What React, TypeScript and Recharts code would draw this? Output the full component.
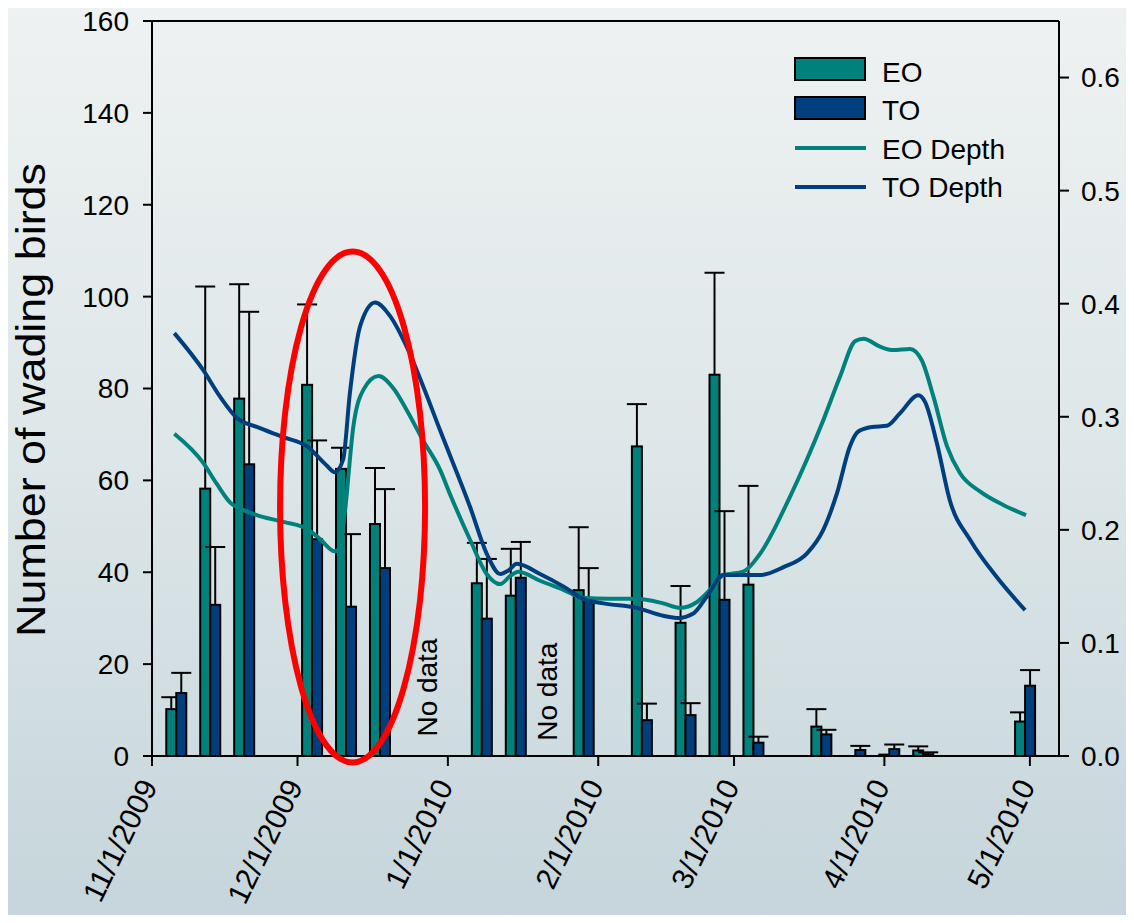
import React from "react";
import {
  ComposedChart,
  Bar,
  Line,
  XAxis,
  YAxis,
  ReferenceArea,
  ReferenceDot,
  ReferenceLine,
} from "recharts";

// survey dates, as days after 11/1/2009
const surveyDays = [5, 12, 19, 33, 40, 47, 68, 75, 89, 101, 110, 117, 124, 138, 145, 152, 159, 180];
const eoBirds = [10.2, 58.2, 77.8, 80.8, 62.5, 50.5, 37.6, 34.9, 36.1, 67.4, 29.0, 83.0, 37.3, 6.4, 0, 0.3, 1.2, 7.5];
const eoErr = [2.6, 44.0, 24.9, 17.5, 4.6, 12.2, 8.8, 10.2, 13.7, 9.2, 8.0, 22.2, 21.5, 3.8, 0, 0, 0.9, 2.0];
const toBirds = [13.7, 32.9, 63.5, 47.2, 32.5, 40.9, 29.9, 38.8, 34.3, 7.8, 8.9, 34.0, 2.9, 4.7, 1.3, 1.5, 0.4, 15.3];
const toErr = [4.4, 12.6, 33.2, 21.5, 15.8, 17.2, 13.0, 7.8, 6.6, 3.6, 2.6, 19.3, 1.3, 1.0, 0.9, 1.0, 0.4, 3.4];

// water depth curves (right axis)
const eoDepthDays = [4.6, 10.6, 13.3, 16.4, 18.1, 21.6, 27.1, 31.9, 34.6, 37.7, 38.8, 39.8, 41.5, 43.6, 46.7, 49.8, 52.5, 55.9, 59.4, 61.4, 65.6, 69.0, 71.8, 73.8, 75.5, 80.0, 84.8, 88.9, 94.4, 99.9, 105.4, 108.9, 112.3, 115.7, 117.8, 121.9, 125.4, 131.5, 138.4, 141.9, 145.0, 146.7, 150.1, 152.8, 156.3, 158.7, 161.1, 163.9, 166.6, 170.7, 175.5, 180.2];
const eoDepthVals = [0.285, 0.259, 0.241, 0.223, 0.219, 0.213, 0.207, 0.201, 0.192, 0.181, 0.185, 0.217, 0.291, 0.324, 0.336, 0.325, 0.306, 0.279, 0.253, 0.232, 0.191, 0.161, 0.152, 0.159, 0.163, 0.155, 0.147, 0.140, 0.139, 0.139, 0.135, 0.131, 0.136, 0.150, 0.160, 0.163, 0.179, 0.229, 0.297, 0.336, 0.367, 0.369, 0.362, 0.359, 0.360, 0.350, 0.318, 0.274, 0.250, 0.234, 0.222, 0.213];
const toDepthDays = [4.6, 10.6, 14.0, 17.5, 21.6, 27.1, 31.9, 36.0, 37.7, 39.4, 40.8, 42.9, 46.0, 49.1, 52.5, 55.9, 59.4, 65.6, 69.0, 71.8, 73.5, 75.2, 80.0, 84.8, 88.9, 93.1, 99.9, 105.4, 108.5, 111.6, 114.4, 117.8, 121.9, 125.4, 130.2, 135.0, 138.4, 141.2, 143.9, 145.6, 148.4, 151.5, 154.2, 158.0, 159.4, 161.8, 164.5, 168.7, 174.2, 180.0];
const toDepthVals = [0.374, 0.341, 0.318, 0.299, 0.291, 0.282, 0.274, 0.257, 0.251, 0.262, 0.321, 0.380, 0.401, 0.389, 0.362, 0.327, 0.288, 0.220, 0.179, 0.161, 0.164, 0.170, 0.161, 0.150, 0.139, 0.135, 0.131, 0.124, 0.122, 0.126, 0.141, 0.160, 0.160, 0.160, 0.167, 0.179, 0.200, 0.232, 0.274, 0.287, 0.291, 0.292, 0.303, 0.319, 0.313, 0.277, 0.226, 0.191, 0.158, 0.129];

const tickDays = [0, 30, 61, 92, 120, 151, 181];
const tickLabels = ["11/1/2009", "12/1/2009", "1/1/2010", "2/1/2010", "3/1/2010", "4/1/2010", "5/1/2010"];
const leftTicks = [0, 20, 40, 60, 80, 100, 120, 140, 160];
const rightTicks = [0, 0.1, 0.2, 0.3, 0.4, 0.5, 0.6];

const TEAL = "#00817c";
const NAVY = "#003f7e";
const FONT = "'Liberation Sans', Arial, sans-serif";

const birdData = surveyDays.map((d, i) => ({
  day: d,
  eo: eoBirds[i],
  eoErr: eoErr[i],
  to: toBirds[i],
  toErr: toErr[i],
}));
const eoDepth = eoDepthDays.map((d, i) => ({ day: d, depth: eoDepthVals[i] }));
const toDepth = toDepthDays.map((d, i) => ({ day: d, depth: toDepthVals[i] }));

// bar with an upper error whisker
const barWithErr = (valKey: string, errKey: string) => (props: any) => {
  const { x, y, width, height, fill, payload } = props;
  const v = payload[valKey];
  const e = payload[errKey];
  const k = v > 0 ? height / v : 0;
  const cx = x + width / 2;
  const top = y - e * k;
  return (
    <g>
      <rect x={x} y={y} width={width} height={Math.max(height, 0)} fill={fill} stroke="#000" strokeWidth={2} />
      {e > 0 && k > 0 && (
        <g stroke="#000" strokeWidth={2}>
          <line x1={cx} y1={y} x2={cx} y2={top} />
          <line x1={cx - 10} y1={top} x2={cx + 10} y2={top} />
        </g>
      )}
    </g>
  );
};

const DateTick = (props: any) => {
  const { x, y, payload } = props;
  const i = tickDays.indexOf(payload.value);
  const tx = x + 6;
  const ty = y + 18;
  return (
    <text x={tx} y={ty} transform={`rotate(-64, ${tx}, ${ty})`} textAnchor="end" fontSize={30} fontFamily={FONT} fill="#000">
      {tickLabels[i]}
    </text>
  );
};

const noDataLabel = (props: any) => {
  const { cx, cy } = props;
  return (
    <text x={cx} y={cy} dy="0.35em" transform={`rotate(-90, ${cx}, ${cy})`} textAnchor="middle" fontSize={28} fontFamily={FONT} fill="#000">
      No data
    </text>
  );
};

export default function App() {
  return (
    <div
      style={{
        position: "relative",
        margin: -8,
        width: 1134,
        height: 923,
        background: "linear-gradient(to bottom, #eff2f2 0%, #dde6e8 50%, #c5d5db 100%)",
        fontFamily: FONT,
      }}
    >
      <ComposedChart
        width={1134}
        height={923}
        data={birdData}
        margin={{ top: 21, right: 0, left: 72, bottom: 17 }}
        barGap={0}
      >
        <XAxis
          xAxisId="bar"
          dataKey="day"
          type="number"
          domain={[0, 187]}
          ticks={tickDays}
          interval={0}
          tick={<DateTick />}
          tickSize={10}
          height={150}
          stroke="#000"
          strokeWidth={2}
          allowDataOverflow
        />
        <XAxis xAxisId="depth" dataKey="day" type="number" domain={[0, 187]} hide allowDataOverflow />
        <YAxis
          yAxisId="left"
          domain={[0, 160]}
          ticks={leftTicks}
          interval={0}
          width={80}
          tickSize={9}
          tickMargin={14}
          stroke="#000"
          strokeWidth={2}
          tick={{ fill: "#000", fontSize: 28, fontFamily: FONT }}
        />
        <YAxis
          yAxisId="right"
          orientation="right"
          domain={[0, 0.65]}
          ticks={rightTicks}
          interval={0}
          width={75}
          tickSize={10}
          tickMargin={12}
          stroke="#000"
          strokeWidth={2}
          allowDataOverflow
          tickFormatter={(v: number) => v.toFixed(1)}
          tick={{ fill: "#000", fontSize: 28, fontFamily: FONT }}
        />
        <ReferenceLine xAxisId="bar" yAxisId="left" y={160} stroke="#000" strokeWidth={2} />
        <Bar
          xAxisId="bar"
          yAxisId="left"
          dataKey="eo"
          fill={TEAL}
          barSize={10}
          isAnimationActive={false}
          shape={barWithErr("eo", "eoErr")}
        />
        <Bar
          xAxisId="bar"
          yAxisId="left"
          dataKey="to"
          fill={NAVY}
          barSize={10}
          isAnimationActive={false}
          shape={barWithErr("to", "toErr")}
        />
        <Line
          xAxisId="depth"
          yAxisId="right"
          data={eoDepth}
          dataKey="depth"
          type="monotone"
          stroke={TEAL}
          strokeWidth={4}
          dot={false}
          isAnimationActive={false}
        />
        <Line
          xAxisId="depth"
          yAxisId="right"
          data={toDepth}
          dataKey="depth"
          type="monotone"
          stroke={NAVY}
          strokeWidth={4}
          dot={false}
          isAnimationActive={false}
        />
        <ReferenceDot xAxisId="bar" yAxisId="left" x={56.7} y={14.9} r={0} shape={noDataLabel} ifOverflow="visible" />
        <ReferenceDot xAxisId="bar" yAxisId="left" x={81.5} y={14.0} r={0} shape={noDataLabel} ifOverflow="visible" />
        <ReferenceArea
          xAxisId="bar"
          yAxisId="left"
          x1={26.4}
          x2={56.3}
          y1={-1.4}
          y2={109.8}
          ifOverflow="visible"
          zIndex={2000}
          shape={(p: any) => (
            <ellipse
              cx={p.x + p.width / 2}
              cy={p.y + p.height / 2}
              rx={p.width / 2}
              ry={p.height / 2}
              fill="none"
              stroke="#ff0000"
              strokeWidth={6}
            />
          )}
        />
      </ComposedChart>
      <svg
        width={1134}
        height={923}
        style={{ position: "absolute", left: 0, top: 0, pointerEvents: "none" }}
      >
        <text
          x={45}
          y={400}
          transform="rotate(-90, 45, 400)"
          textAnchor="middle"
          fontSize={40}
          fontFamily={FONT}
          textLength={474}
          lengthAdjust="spacingAndGlyphs"
          fill="#000"
        >
          Number of wading birds
        </text>
        <g fontFamily={FONT} fontSize={28} fill="#000">
          <rect x={795} y={58} width={70} height={22} fill={TEAL} stroke="#000" strokeWidth={2} />
          <text x={882} y={82}>EO</text>
          <rect x={795} y={97} width={70} height={22} fill={NAVY} stroke="#000" strokeWidth={2} />
          <text x={882} y={120}>TO</text>
          <line x1={795} y1={148} x2={866} y2={148} stroke={TEAL} strokeWidth={4} />
          <text x={882} y={159}>EO Depth</text>
          <line x1={795} y1={187} x2={866} y2={187} stroke={NAVY} strokeWidth={4} />
          <text x={882} y={197}>TO Depth</text>
        </g>
      </svg>
    </div>
  );
}
